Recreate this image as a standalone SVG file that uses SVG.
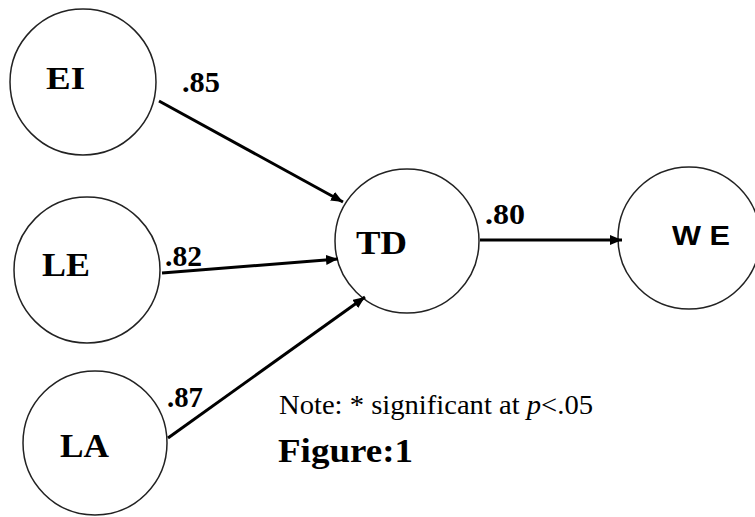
<svg xmlns="http://www.w3.org/2000/svg" width="755" height="517" viewBox="0 0 755 517">
<defs>
<marker id="ah" viewBox="0 0 12 10" markerWidth="12" markerHeight="10" refX="12" refY="5" orient="auto" markerUnits="userSpaceOnUse">
<path d="M0,0 L12,5 L0,10 Z" fill="#000"/>
</marker>
<style>
.node circle{fill:#fff;stroke:#222;stroke-width:1.5}
.lbl{font-family:"Liberation Serif","Times New Roman",serif;font-weight:bold;fill:#000}
.sans{font-family:"Liberation Sans",Arial,sans-serif;font-weight:bold;fill:#000}
.edge{stroke:#000;stroke-width:3;fill:none;marker-end:url(#ah)}
.coef{font-family:"Liberation Serif","Times New Roman",serif;font-weight:bold;font-size:29px;fill:#000}
</style>
</defs>
<rect width="755" height="517" fill="#fff"/>
<g id="EI" class="node"><circle cx="83" cy="82" r="73"/><text class="lbl" x="46" y="89" font-size="32" textLength="39" lengthAdjust="spacingAndGlyphs">EI</text></g>
<g id="LE" class="node"><circle cx="87" cy="270" r="73"/><text class="lbl" x="42" y="276" font-size="33" textLength="48" lengthAdjust="spacingAndGlyphs">LE</text></g>
<g id="LA" class="node"><circle cx="95" cy="443" r="72"/><text class="lbl" x="60" y="457" font-size="34" textLength="49" lengthAdjust="spacingAndGlyphs">LA</text></g>
<g id="TD" class="node"><circle cx="407" cy="241" r="72"/><text class="lbl" x="356" y="254" font-size="34" textLength="51" lengthAdjust="spacingAndGlyphs">TD</text></g>
<g id="WE" class="node"><circle cx="689" cy="238" r="71"/><text class="sans" x="672" y="245" font-size="28" textLength="58" lengthAdjust="spacingAndGlyphs">W E</text></g>
<g id="connectors">
<line class="edge" x1="159" y1="101" x2="343" y2="202"/>
<line class="edge" x1="162" y1="273" x2="338" y2="259"/>
<line class="edge" x1="168" y1="438" x2="365" y2="297"/>
<line class="edge" x1="480" y1="240" x2="622" y2="240"/>
</g>
<g id="labels">
<text class="coef" x="182" y="92" textLength="38" lengthAdjust="spacingAndGlyphs">.85</text>
<text class="coef" x="165" y="266" textLength="37" lengthAdjust="spacingAndGlyphs">.82</text>
<text class="coef" x="167" y="407" textLength="36" lengthAdjust="spacingAndGlyphs">.87</text>
<text class="coef" x="485" y="224" textLength="40" lengthAdjust="spacingAndGlyphs">.80</text>
<text x="279" y="414" font-family="'Liberation Serif','Times New Roman',serif" font-size="27" textLength="314" lengthAdjust="spacingAndGlyphs">Note: * significant at <tspan font-style="italic">p</tspan>&lt;.05</text>
<text class="lbl" x="278" y="462" font-size="33" textLength="135" lengthAdjust="spacingAndGlyphs">Figure:1</text>
</g>
</svg>
